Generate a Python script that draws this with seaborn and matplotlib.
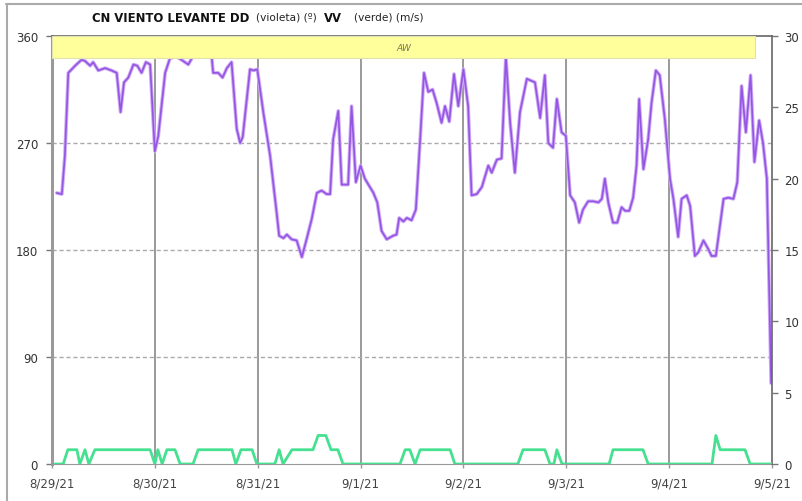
import pandas as pd
import matplotlib
matplotlib.use("Agg")
import matplotlib.pyplot as plt
import seaborn as sns
from matplotlib.lines import Line2D
from matplotlib.patches import Rectangle

start = pd.Timestamp("2021-08-29")
day_labels = ["8/29/21", "8/30/21", "8/31/21", "9/1/21", "9/2/21", "9/3/21", "9/4/21", "9/5/21"]

# wind direction (violet, degrees) - hours since 8/29 00:00
dd_hours = [1.1, 2.3, 3.0, 3.8, 5.4, 6.9, 7.7, 8.9, 9.6, 10.8, 12.4, 13.9, 15.1, 16.0, 16.8,
            17.8, 19.0, 19.9, 20.9, 21.9, 22.9, 24.0, 24.8, 26.4, 27.5, 28.9, 30.6, 31.8,
            32.6, 33.6, 35.2, 36.4, 37.3, 37.6, 38.8, 39.8, 40.8, 41.9, 43.1, 43.9, 44.5,
            46.2, 47.0, 47.9, 49.3, 50.9, 52.4, 53.0, 54.0, 54.8, 55.9, 57.1, 58.3, 59.4,
            60.6, 61.8, 62.9, 64.1, 64.9, 65.6, 66.8, 67.6, 69.1, 69.9, 70.9, 72.0, 73.0,
            75.0, 75.9, 76.9, 78.1, 79.6, 80.4, 81.0, 82.0, 82.8, 83.9, 84.9, 85.9, 86.8,
            87.8, 88.8, 89.8, 90.9, 91.7, 92.7, 93.8, 94.8, 96.0, 97.1, 97.9, 99.1, 100.3,
            101.8, 102.6, 103.8, 104.9, 105.9, 106.9, 108.0, 109.2, 110.8, 112.7, 113.9,
            115.0, 115.8, 116.9, 117.8, 118.9, 119.9, 120.9, 122.0, 123.0, 123.9, 125.1,
            126.3, 127.5, 128.3, 129.0, 129.8, 130.9, 131.9, 132.9, 133.7, 134.7, 135.6,
            136.4, 137.0, 138.0, 139.1, 139.9, 140.9, 141.8, 143.0, 144.2, 145.0, 146.1,
            146.9, 148.1, 148.9, 150.0, 150.8, 152.0, 153.1, 153.9, 154.9, 156.7, 157.8,
            159.0, 159.9, 160.9, 161.9, 163.0, 163.9, 165.0, 165.9, 166.8, 167.8]
dd_deg = [228, 227, 259, 329, 335, 340, 339, 335, 338, 331, 333, 331, 329, 296, 321,
          325, 336, 335, 329, 338, 336, 263, 276, 329, 341, 343, 339, 336,
          341, 350, 352, 348, 341, 329, 329, 325, 333, 338, 282, 270, 275,
          332, 331, 332, 296, 259, 212, 192, 190, 193, 189, 188, 174, 189,
          206, 228, 230, 227, 227, 273, 297, 235, 235, 301, 237, 251, 240,
          228, 220, 196, 189, 192, 193, 207, 204, 207, 205, 214, 273, 329,
          313, 315, 303, 287, 301, 288, 328, 301, 332, 301, 226, 227, 233,
          251, 245, 256, 257, 343, 287, 245, 296, 324, 321, 291,
          327, 270, 266, 307, 279, 276, 226, 220, 203, 214, 221,
          221, 220, 223, 240, 220, 203, 203, 216, 213, 213, 224,
          251, 307, 248, 273, 304, 331, 327, 290, 240, 223, 191,
          223, 226, 217, 175, 178, 188, 181, 175, 175, 223, 224,
          223, 237, 318, 279, 327, 254, 289, 270, 240, 68]

# wind speed (green, m/s)
vv_hours = [0.7, 2.6, 3.7, 5.8, 6.5, 7.7, 8.6, 10.0, 22.9, 24.0, 24.7, 25.7, 26.8, 28.7,
            29.9, 32.9, 34.1, 42.0, 42.9, 44.1, 46.7, 47.8, 52.0, 53.0, 53.9, 56.0, 60.9,
            62.1, 63.9, 65.1, 66.7, 67.9, 81.2, 82.4, 83.5, 84.7, 85.9, 92.9, 94.0, 108.7,
            109.9, 115.0, 116.2, 117.1, 117.8, 119.0, 130.0, 130.9, 137.9, 139.1, 154.0,
            154.9, 155.9, 161.7, 162.9, 168.0]
vv_ms = [0, 0, 1, 1, 0, 1, 0, 1, 1, 0, 1, 0, 1, 1,
         0, 0, 1, 1, 0, 1, 1, 0, 0, 1, 0, 1, 1,
         2, 2, 1, 1, 0, 0, 1, 1, 0, 1, 1, 0, 0,
         1, 1, 0, 0, 1, 0, 0, 1, 1, 0, 0,
         2, 1, 1, 0, 0]

dd = pd.DataFrame({"t": start + pd.to_timedelta(dd_hours, unit="h"), "DD": dd_deg})
vv = pd.DataFrame({"t": start + pd.to_timedelta(vv_hours, unit="h"), "VV": vv_ms})
days = pd.date_range(start, periods=len(day_labels), freq="D")

sns.set_style("white")
plt.rcParams["font.family"] = ["DejaVu Sans"]

fig = plt.figure(figsize=(8.02, 5.02), dpi=100)
ax = fig.add_axes([52 / 802, 37 / 502, 720 / 802, 428 / 502])
ax2 = ax.twinx()

# grid
for d in days[1:-1]:
    ax.axvline(d, color="#9a9a9a", lw=1.4, zorder=1)
for yv in [90, 180, 270]:
    ax.axhline(yv, color="#aaaaaa", lw=1, ls=(0, (3, 2)), zorder=1)

sns.lineplot(data=dd, x="t", y="DD", ax=ax, color="#cfaaf7", lw=2.6, zorder=3)
sns.lineplot(data=dd, x="t", y="DD", ax=ax, color="#9355e2", lw=1.2, zorder=4)
sns.lineplot(data=vv, x="t", y="VV", ax=ax2, color="#45e090", lw=2.0, zorder=3)

ax.set_xlim(days[0], days[-1])
ax.set_ylim(0, 360)
ax.set_yticks([0, 90, 180, 270, 360])
ax2.set_ylim(0, 30)
ax2.set_yticks(range(0, 31, 5))
ax.set_xticks(days)
ax.set_xticklabels(day_labels)
ax.set_xlabel("")
ax.set_ylabel("")
ax2.set_ylabel("")

ax.tick_params(axis="y", length=4, width=1, color="#777777", labelsize=8.5,
               labelcolor="#333333", pad=6, left=True)
ax.tick_params(axis="x", length=3, width=1, color="#999999", labelsize=8.5,
               labelcolor="#444444", pad=6, bottom=True)
ax2.tick_params(axis="y", length=4, width=1, color="#777777", labelsize=8.5,
                labelcolor="#333333", pad=5, right=True)

for a in (ax, ax2):
    for s in a.spines.values():
        s.set_visible(False)
ax.spines["left"].set_visible(True)
ax.spines["left"].set_color("#9a9a9a")
ax.spines["left"].set_linewidth(2.2)
ax.spines["bottom"].set_visible(True)
ax.spines["bottom"].set_color("#999999")
ax2.spines["right"].set_visible(True)
ax2.spines["right"].set_color("#666666")
ax2.spines["right"].set_linewidth(1.2)
ax2.spines["top"].set_visible(True)
ax2.spines["top"].set_color("#666666")
ax2.spines["top"].set_linewidth(1.2)

# yellow AW band drawn over the direction line
band_end = start + pd.Timedelta(hours=164)
bx0 = matplotlib.dates.date2num(days[0])
bx1 = matplotlib.dates.date2num(band_end)
trans = ax2.get_xaxis_transform()
ax2.add_patch(Rectangle((bx0, 0.9486), bx1 - bx0, 0.0514, transform=trans,
                        facecolor="#ffff9c", edgecolor="#e2e2b0", lw=0.8, zorder=10,
                        clip_on=False))
ax2.text((bx0 + bx1) / 2, 0.974, "AW", transform=trans, ha="center", va="center",
         fontsize=6.5, style="italic", color="#777755", zorder=11)

# title made of bold and regular pieces, laid end to end
title_parts = [("CN VIENTO LEVANTE DD", "bold", 8.4, "#111111", 7),
               ("(violeta) (º)", "normal", 7.6, "#222222", 7),
               ("VV", "bold", 8.4, "#111111", 12),
               ("(verde) (m/s)", "normal", 7.6, "#222222", 0)]
renderer = fig.canvas.get_renderer()
tx = 92
ty = 1 - 18 / 502
for txt, weight, size, col, gap in title_parts:
    t = fig.text(tx / 802, ty, txt, fontsize=size, fontweight=weight, va="center", color=col)
    tx = t.get_window_extent(renderer).x1 + gap

# outer frame
fig.add_artist(Line2D([6 / 802, 1.0], [1 - 5 / 502, 1 - 5 / 502], color="#aaaaaa", lw=1.5))
fig.add_artist(Line2D([7 / 802, 7 / 802], [0.0, 1 - 5 / 502], color="#aaaaaa", lw=1.5))

fig.savefig("out.png", dpi=100)
